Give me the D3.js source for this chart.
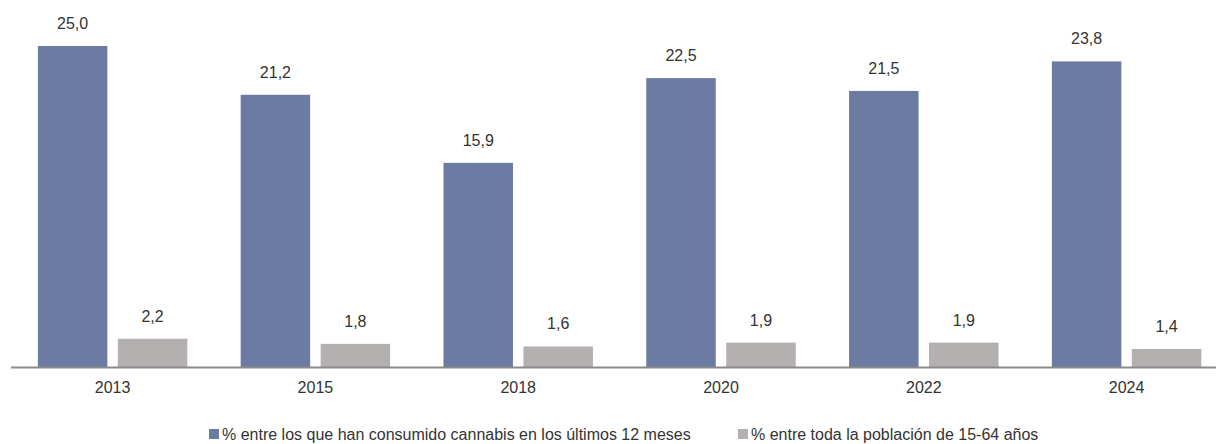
<!DOCTYPE html>
<html><head><meta charset="utf-8">
<script src="https://cdn.jsdelivr.net/npm/d3@7"></script>
<style>body{margin:0;background:#fff;} text{font-family:"Liberation Sans",Arial,sans-serif;}</style>
</head><body>
<svg id="c" width="1216" height="444"></svg>
<script>
const years = ["2013","2015","2018","2020","2022","2024"];
const seriesNames = ["% entre los que han consumido cannabis en los últimos 12 meses","% entre toda la población de 15-64 años"];
const consumers = [25.0,21.2,15.9,22.5,21.5,23.8];
const population = [2.2,1.8,1.6,1.9,1.9,1.4];
const colors = ["#6b7ba2","#b3b0af"];

const svg = d3.select("#c");
const baseY = 367, topY = 46;
const x0 = d3.scaleBand().domain(years).range([11.2,1228]).paddingInner(0.263).paddingOuter(0.1315);
const x1 = d3.scaleBand().domain([0,1]).range([0,x0.bandwidth()]).paddingInner(0.131);
const y = d3.scaleLinear().domain([0,25]).range([baseY, topY]);
const fmt = v => d3.format(".1f")(v).replace(".",",");

const data = years.map((yr,i)=>({yr, vals:[consumers[i],population[i]]}));
const g = svg.selectAll("g.grp").data(data).join("g").attr("transform",d=>`translate(${x0(d.yr)},0)`);
g.selectAll("rect").data(d=>d.vals).join("rect")
  .attr("x",(d,i)=>x1(i)).attr("width",x1.bandwidth())
  .attr("y",d=>y(d)).attr("height",d=>baseY-y(d)).attr("fill",(d,i)=>colors[i]);
g.selectAll("text.v").data(d=>d.vals).join("text").attr("class","v")
  .attr("x",(d,i)=>x1(i)+x1.bandwidth()/2).attr("y",d=>y(d)-17)
  .attr("text-anchor","middle").attr("font-size",16).attr("fill","#333").text(fmt);

// axis
const ax = svg.append("g").attr("transform",`translate(0,${baseY})`)
  .call(d3.axisBottom(x0).tickSize(0).tickPadding(15));
ax.select(".domain").remove();
ax.selectAll("text").attr("font-size",16).attr("fill","#333").style("font-family","Liberation Sans, Arial, sans-serif");
svg.append("line").attr("x1",11).attr("x2",1216).attr("y1",baseY+0.5).attr("y2",baseY+0.5).attr("stroke","#8a8a8a").attr("stroke-width",2);

// legend
const legX = [209,738];
const leg = svg.selectAll("g.leg").data(seriesNames).join("g").attr("transform",(d,i)=>`translate(${legX[i]},429)`);
leg.append("rect").attr("width",10).attr("height",10).attr("fill",(d,i)=>colors[i]);
leg.append("text").attr("x",13).attr("y",11).attr("font-size",16).attr("fill","#333").text(d=>d);
</script>
</body></html>
